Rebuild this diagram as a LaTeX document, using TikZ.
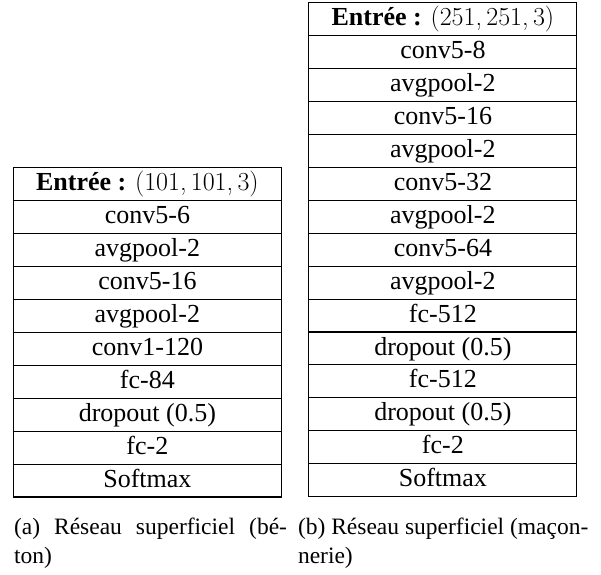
\documentclass[tikz,border=0pt]{standalone}
\usepackage[no-math]{fontspec}
\setmainfont{Liberation Serif}
\newfontfamily\lmfont{Latin Modern Roman}
\usetikzlibrary{positioning}

% sizes for the layer boxes and the captions
\newcommand\tabfont{\fontsize{26}{31}\selectfont}
\newcommand\capfont{\fontsize{23.5}{29}\selectfont}
% input shape tuple, typeset like a math tuple
\newcommand\shape[1]{{\lmfont #1}}

\tikzset{
  layer/.style={draw=black, line width=1.1pt, minimum width=268pt,
    minimum height=32.93pt, inner sep=0pt, outer sep=0pt,
    text height=23.03pt, text depth=9.9pt, font=\tabfont},
  captext/.style={anchor=base west, inner sep=0pt, outer sep=0pt, font=\capfont},
}

\begin{document}
\begin{tikzpicture}[x=1pt, y=1pt]
\useasboundingbox (0,0) rectangle (601,-574);

% (a) shallow network for concrete
\node[layer, anchor=north] (l0) at (147.4,-167.7) {\textbf{Entrée :} \shape{(101,\,101,\,3)}};
\node[layer, below=0pt of l0] (l1) {conv5-6};
\node[layer, below=0pt of l1] (l2) {avgpool-2};
\node[layer, below=0pt of l2] (l3) {conv5-16};
\node[layer, below=0pt of l3] (l4) {avgpool-2};
\node[layer, below=0pt of l4] (l5) {conv1-120};
\node[layer, below=0pt of l5] (l6) {fc-84};
\node[layer, below=0pt of l6] (l7) {dropout (0.5)};
\node[layer, below=0pt of l7] (l8) {fc-2};
\node[layer, below=0pt of l8] (l9) {Softmax};

% (b) shallow network for masonry
\node[layer, anchor=north] (r0) at (442.9,-2.7) {\textbf{Entrée :} \shape{(251,\,251,\,3)}};
\node[layer, below=0pt of r0] (r1) {conv5-8};
\node[layer, below=0pt of r1] (r2) {avgpool-2};
\node[layer, below=0pt of r2] (r3) {conv5-16};
\node[layer, below=0pt of r3] (r4) {avgpool-2};
\node[layer, below=0pt of r4] (r5) {conv5-32};
\node[layer, below=0pt of r5] (r6) {avgpool-2};
\node[layer, below=0pt of r6] (r7) {conv5-64};
\node[layer, below=0pt of r7] (r8) {avgpool-2};
\node[layer, below=0pt of r8] (r9) {fc-512};
\node[layer, below=0pt of r9] (r10) {dropout (0.5)};
\node[layer, below=0pt of r10] (r11) {fc-512};
\node[layer, below=0pt of r11] (r12) {dropout (0.5)};
\node[layer, below=0pt of r12] (r13) {fc-2};
\node[layer, below=0pt of r13] (r14) {Softmax};

% sub-captions
\node[captext] (capa1) at (14,-534) {\makebox[273pt][s]{(a) Réseau superficiel (bé-}};
\node[captext] (capa2) at (14,-563) {ton)};
\node[captext] (capb1) at (298,-534) {(b) Réseau superficiel (maçon-};
\node[captext] (capb2) at (298,-563) {nerie)};
\end{tikzpicture}
\end{document}
